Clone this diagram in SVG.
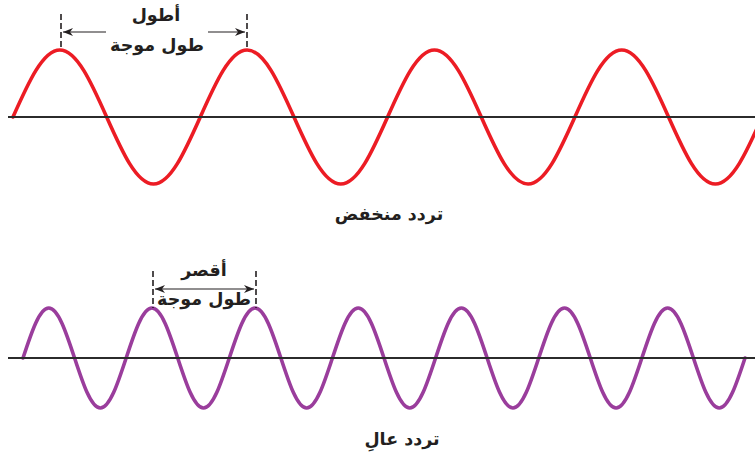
<svg xmlns="http://www.w3.org/2000/svg" width="755" height="462" viewBox="0 0 755 462">
<style>
.axis{stroke:#2b2b2b;stroke-width:2.2;fill:none}
.wave{fill:none;stroke-width:3.6;stroke-linecap:round}
.red{stroke:#ec1c24}
.purple{stroke:#9a3d9c}
.dash{stroke:#231f20;stroke-width:1.6;stroke-dasharray:6,3;fill:none}
.arr{stroke:#231f20;stroke-width:1.2;fill:none}
.lbl{font-family:"DejaVu Sans",sans-serif;font-weight:bold;font-size:17.5px;fill:#231f20;text-anchor:middle}
</style>
<defs>
<marker id="ah" viewBox="0 0 10 8" refX="10" refY="4" markerWidth="10" markerHeight="8" markerUnits="userSpaceOnUse" orient="auto-start-reverse">
<path d="M0,0 L10,4 L0,8 L3,4 z" fill="#231f20"/>
</marker>
</defs>
<g id="low-wave">
<path class="wave red" d="M13,117 c 15.27,-34.32 29.88,-67 46.825,-67 s 31.56,32.68 46.825,67 s 29.88,67 46.825,67 s 31.56,-32.68 46.825,-67 s 29.88,-67 46.825,-67 s 31.56,32.68 46.825,67 s 29.88,67 46.825,67 s 31.56,-32.68 46.825,-67 s 29.88,-67 46.825,-67 s 31.56,32.68 46.825,67 s 29.88,67 46.825,67 s 31.56,-32.68 46.825,-67 s 29.88,-67 46.825,-67 s 31.56,32.68 46.825,67 s 29.88,67 46.825,67 s 31.56,-32.68 46.825,-67"/>
<line class="axis" x1="8" y1="117" x2="755" y2="117"/>
</g>
<g id="high-wave">
<path class="wave purple" d="M23,358 c 8.41,-25.62 16.45,-50 25.786,-50 s 17.38,24.39 25.786,50 s 16.45,50 25.786,50 s 17.38,-24.39 25.786,-50 s 16.45,-50 25.786,-50 s 17.38,24.39 25.786,50 s 16.45,50 25.786,50 s 17.38,-24.39 25.786,-50 s 16.45,-50 25.786,-50 s 17.38,24.39 25.786,50 s 16.45,50 25.786,50 s 17.38,-24.39 25.786,-50 s 16.45,-50 25.786,-50 s 17.38,24.39 25.786,50 s 16.45,50 25.786,50 s 17.38,-24.39 25.786,-50 s 16.45,-50 25.786,-50 s 17.38,24.39 25.786,50 s 16.45,50 25.786,50 s 17.38,-24.39 25.786,-50 s 16.45,-50 25.786,-50 s 17.38,24.39 25.786,50 s 16.45,50 25.786,50 s 17.38,-24.39 25.786,-50 s 16.45,-50 25.786,-50 s 17.38,24.39 25.786,50 s 16.45,50 25.786,50 s 17.38,-24.39 25.786,-50"/>
<line class="axis" x1="8" y1="358" x2="755" y2="358"/>
</g>
<g id="connectors">
<line class="dash" x1="61" y1="14" x2="61" y2="50"/>
<line class="dash" x1="247" y1="14" x2="247" y2="50"/>
<line class="arr" x1="106" y1="32" x2="63" y2="32" marker-end="url(#ah)"/>
<line class="arr" x1="208" y1="32" x2="245" y2="32" marker-end="url(#ah)"/>
<line class="dash" x1="153" y1="271" x2="153" y2="308"/>
<line class="dash" x1="256" y1="271" x2="256" y2="308"/>
<line class="arr" x1="155" y1="289" x2="254" y2="289" marker-start="url(#ah)" marker-end="url(#ah)"/>
</g>
<g id="label-long">
<text class="lbl" x="156" y="21">أطول</text>
<text class="lbl" x="157" y="51">طول موجة</text>
</g>
<g id="label-short">
<text class="lbl" x="204" y="276">أقصر</text>
<text class="lbl" x="204" y="305">طول موجة</text>
</g>
<g id="caption-low">
<text class="lbl" x="389" y="220">تردد منخفض</text>
</g>
<g id="caption-high">
<text class="lbl" x="402" y="445">تردد عالِ</text>
</g>
</svg>
